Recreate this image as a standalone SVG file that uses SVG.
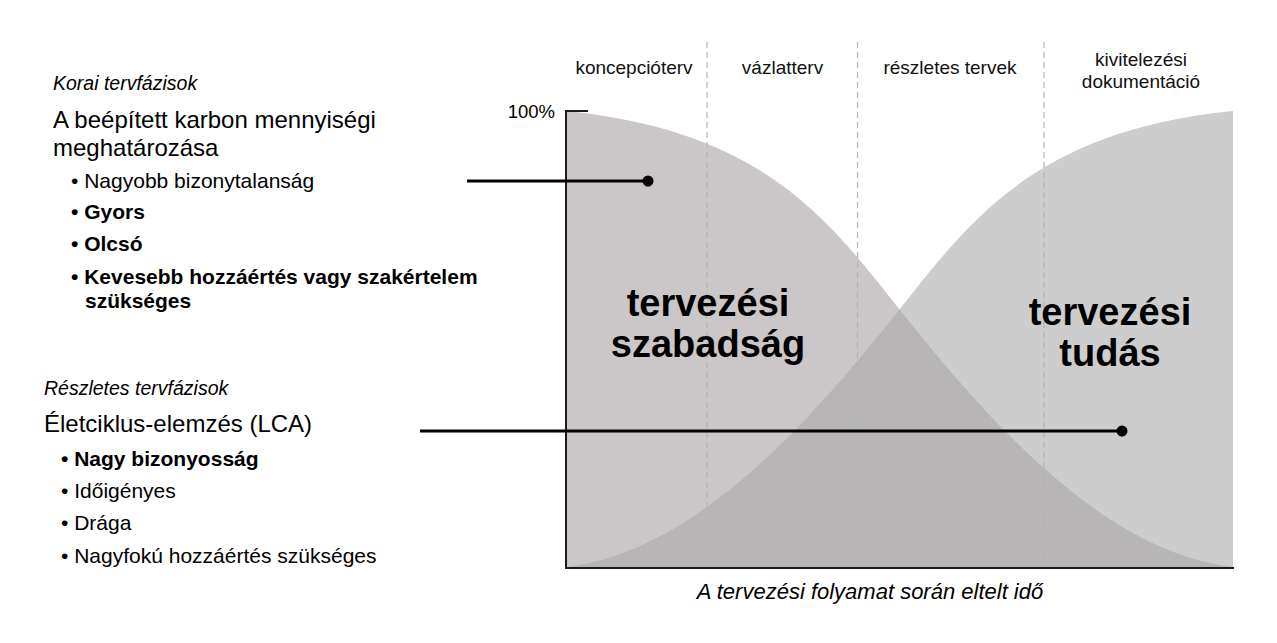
<svg xmlns="http://www.w3.org/2000/svg" width="1277" height="643" viewBox="0 0 1277 643">
  <style>
    text { font-family: "Liberation Sans", Arial, sans-serif; fill: #000; }
    .it { font-style: italic; }
    .b { font-weight: bold; }
    .hdr { font-size: 19px; text-anchor: middle; fill: #111; }
    .sub { font-size: 19.5px; font-style: italic; }
    .ttl { font-size: 24px; }
    .item { font-size: 21px; }
    .big { font-size: 38px; font-weight: bold; text-anchor: middle; }
    .dash { stroke: #b3b3b3; stroke-width: 1.2; stroke-dasharray: 6 4; fill: none; }
    .axis { stroke: #1a1a1a; stroke-width: 2; fill: none; }
    .conn { stroke: #000; stroke-width: 3; fill: none; }
  </style>
  <defs>
    <clipPath id="freeClip">
      <path d="M566,111 C766,131 830,222.5 900,310 C980,410 1098,551 1233,567 L1233,568 L566,568 Z"/>
    </clipPath>
  </defs>
  <rect width="1277" height="643" fill="#fff"/>

  <g id="chart">
    <path id="freedom-area" d="M566,111 C766,131 830,222.5 900,310 C980,410 1098,551 1233,567 L1233,568 L566,568 Z" fill="#cbc7c8"/>
    <path id="knowledge-area" d="M1233,111 C1033,131 969,222.5 899,310 C819,410 701,551 566,567 L566,568 L1233,568 Z" fill="#cdcdcd"/>
    <path id="overlap-area" clip-path="url(#freeClip)" d="M1233,111 C1033,131 969,222.5 899,310 C819,410 701,551 566,567 L566,568 L1233,568 Z" fill="#b8b5b6"/>
    <line class="dash" x1="707" y1="42" x2="707" y2="568"/>
    <line class="dash" x1="857.5" y1="42" x2="857.5" y2="568"/>
    <line class="dash" x1="1044" y1="42" x2="1044" y2="568"/>
    <path class="axis" d="M588,111 H566 V568 H1234"/>
    <text x="555" y="118" font-size="18.5" text-anchor="end" fill="#111">100%</text>
    <text class="big" x="708" y="316">tervezési</text>
    <text class="big" x="708" y="357">szabadság</text>
    <text class="big" x="1110" y="325">tervezési</text>
    <text class="big" x="1110" y="366">tudás</text>
    <text class="it" x="870" y="599" font-size="22" text-anchor="middle" fill="#111">A tervezési folyamat során eltelt idő</text>
  </g>

  <g id="phase-headers">
    <text class="hdr" x="634" y="74">koncepcióterv</text>
    <text class="hdr" x="782.5" y="74">vázlatterv</text>
    <text class="hdr" x="950" y="74">részletes tervek</text>
    <text class="hdr" x="1141" y="66" font-size="17.5">kivitelezési</text>
    <text class="hdr" x="1141" y="88" font-size="17.5">dokumentáció</text>
  </g>

  <g id="early-phase">
    <text class="sub" x="53" y="90">Korai tervfázisok</text>
    <text class="ttl" x="53" y="128">A beépített karbon mennyiségi</text>
    <text class="ttl" x="53" y="156">meghatározása</text>
    <text class="item" x="71" y="188">• Nagyobb bizonytalanság</text>
    <text class="item b" x="71" y="219">• Gyors</text>
    <text class="item b" x="71" y="251">• Olcsó</text>
    <text class="item b" x="71" y="284">• Kevesebb hozzáértés vagy szakértelem</text>
    <text class="item b" x="85" y="308">szükséges</text>
  </g>

  <g id="detailed-phase">
    <text class="sub" x="44" y="395">Részletes tervfázisok</text>
    <text class="ttl" x="44" y="432">Életciklus-elemzés (LCA)</text>
    <text class="item b" x="61" y="466">• Nagy bizonyosság</text>
    <text class="item" x="61" y="498">• Időigényes</text>
    <text class="item" x="61" y="530">• Drága</text>
    <text class="item" x="61" y="563">• Nagyfokú hozzáértés szükséges</text>
  </g>

  <g id="connectors">
    <line class="conn" x1="467" y1="181" x2="648" y2="181"/>
    <circle cx="648" cy="181" r="5.5" fill="#000"/>
    <line class="conn" x1="420" y1="431" x2="1122" y2="431"/>
    <circle cx="1122" cy="431" r="5.5" fill="#000"/>
  </g>
</svg>
